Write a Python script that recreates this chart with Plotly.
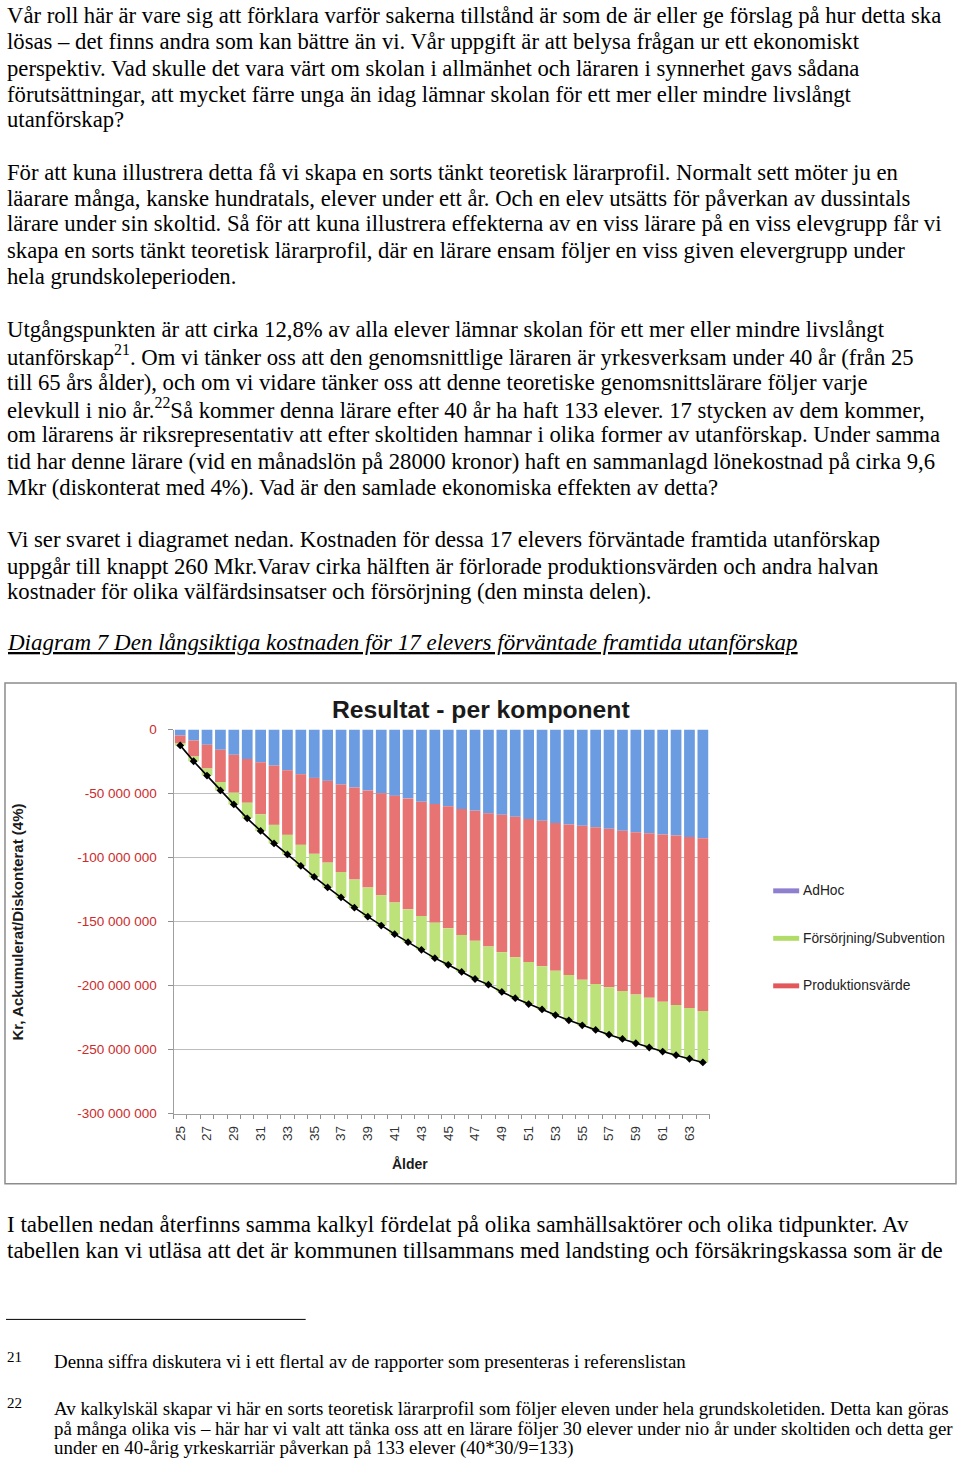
import plotly.graph_objects as go

W, H = 960, 1462

# chart data, Mkr, ages 25..64 (accumulated, discounted 4%)
ages = list(range(25, 65))
blue_part = [-4.7, -8.5, -11.9, -15.8, -19.7, -23.0, -25.6, -28.2, -31.8, -34.9,
             -37.8, -40.1, -43.0, -45.3, -47.6, -49.7, -51.8, -53.8, -56.4, -58.2,
             -60.0, -62.1, -63.4, -65.5, -66.5, -68.1, -69.9, -71.2, -73.0, -74.3,
             -75.1, -76.3, -77.6, -79.0, -80.2, -81.0, -82.1, -82.8, -83.9, -84.9]
produktion = [-5.9, -12.5, -18.6, -25.3, -29.7, -34.2, -40.7, -46.3, -50.5, -55.2,
              -59.3, -63.9, -68.3, -71.9, -75.8, -79.7, -83.3, -86.7, -89.3, -92.7,
              -95.3, -98.4, -101.7, -104.0, -107.4, -109.9, -111.8, -113.8, -115.4, -117.5,
              -120.3, -122.5, -123.7, -125.2, -126.9, -128.6, -130.6, -132.5, -133.7, -135.0]
forsorjning = [-1.8, -3.8, -5.5, -6.5, -9.1, -12.2, -12.9, -14.5, -15.3, -16.5,
               -18.1, -19.4, -19.9, -22.0, -22.8, -23.8, -24.8, -25.6, -26.4, -27.7,
               -28.5, -28.9, -29.8, -29.8, -31.1, -31.9, -32.8, -33.7, -34.7, -35.4,
               -35.7, -35.9, -37.1, -37.5, -38.0, -38.8, -38.9, -39.1, -39.6, -40.2]
totals = [b + p + f for b, p, f in zip(blue_part, produktion, forsorjning)]

ytick_vals = [0, -50, -100, -150, -200, -250, -300]
ytick_text = ["0", "-50 000 000", "-100 000 000", "-150 000 000", "-200 000 000",
              "-250 000 000", "-300 000 000"]
xtick_vals = ages[::2]
xtick_text = [str(a) for a in xtick_vals]

legend_names = ["AdHoc", "Försörjning/Subvention", "Produktionsvärde"]
legend_colors = ["#8f80cf", "#b2dc68", "#e2585a"]

# page text
body_lines = [
    "Vår roll här är vare sig att förklara varför sakerna tillstånd är som de är eller ge förslag på hur detta ska",
    "lösas – det finns andra som kan bättre än vi. Vår uppgift är att belysa frågan ur ett ekonomiskt",
    "perspektiv. Vad skulle det vara värt om skolan i allmänhet och läraren i synnerhet gavs sådana",
    "förutsättningar, att mycket färre unga än idag lämnar skolan för ett mer eller mindre livslångt",
    "utanförskap?",
    "För att kuna illustrera detta få vi skapa en sorts tänkt teoretisk lärarprofil. Normalt sett möter ju en",
    "läarare många, kanske hundratals, elever under ett år. Och en elev utsätts för påverkan av dussintals",
    "lärare under sin skoltid. Så för att kuna illustrera effekterna av en viss lärare på en viss elevgrupp får vi",
    "skapa en sorts tänkt teoretisk lärarprofil, där en lärare ensam följer en viss given elevergrupp under",
    "hela grundskoleperioden.",
    "Utgångspunkten är att cirka 12,8% av alla elever lämnar skolan för ett mer eller mindre livslångt",
    "utanförskap<sup>21</sup>. Om vi tänker oss att den genomsnittlige läraren är yrkesverksam under 40 år (från 25",
    "till 65 års ålder), och om vi vidare tänker oss att denne teoretiske genomsnittslärare följer varje",
    "elevkull i nio år.<sup>22</sup>Så kommer denna lärare efter 40 år ha haft 133 elever. 17 stycken av dem kommer,",
    "om lärarens är riksrepresentativ att efter skoltiden hamnar i olika former av utanförskap. Under samma",
    "tid har denne lärare (vid en månadslön på 28000 kronor) haft en sammanlagd lönekostnad på cirka 9,6",
    "Mkr (diskonterat med 4%). Vad är den samlade ekonomiska effekten av detta?",
    "Vi ser svaret i diagramet nedan. Kostnaden för dessa 17 elevers förväntade framtida utanförskap",
    "uppgår till knappt 260 Mkr.Varav cirka hälften är förlorade produktionsvärden och andra halvan",
    "kostnader för olika välfärdsinsatser och försörjning (den minsta delen).",
]
body_y = [9, 35, 62, 88, 114, 167, 193, 219, 246, 272, 326, 352, 379, 406, 432, 459, 485,
          538, 565, 591]
after_lines = [
    "I tabellen nedan återfinns samma kalkyl fördelat på olika samhällsaktörer och olika tidpunkter. Av",
    "tabellen kan vi utläsa att det är kommunen tillsammans med landsting och försäkringskassa som är de",
]
after_y = [1230, 1256]
caption = "Diagram 7 Den långsiktiga kostnaden för 17 elevers förväntade framtida utanförskap"

footnotes = [
    ("21", ["Denna siffra diskutera vi i ett flertal av de rapporter som presenteras i referenslistan"]),
    ("22", ["Av kalkylskäl skapar vi här en sorts teoretisk lärarprofil som följer eleven under hela grundskoletiden. Detta kan göras",
            "på många olika vis – här har vi valt att tänka oss att en lärare följer 30 elever under nio år under skoltiden och detta ger",
            "under en 40-årig yrkeskarriär påverkan på 133 elever (40*30/9=133)"]),
]


def px(x, y):
    return x / W, 1 - y / H


SERIF = "Liberation Serif"
SANS = "Liberation Sans"


def text_at(fig, x, y, txt, font, anchor="left", **kw):
    ax, ay = px(x, y)
    fig.add_annotation(x=ax, y=ay, xref="paper", yref="paper", text=txt, showarrow=False,
                       xanchor=anchor, yanchor="middle", font=font, **kw)


fig = go.Figure()
fig.add_trace(go.Bar(x=ages, y=blue_part, name="Komponent", marker=dict(color="#6b9be0", line_width=0),
                     showlegend=False))
fig.add_trace(go.Bar(x=ages, y=produktion, name="Produktionsvärde", marker=dict(color="#e77473", line_width=0),
                     showlegend=False))
fig.add_trace(go.Bar(x=ages, y=forsorjning, name="Försörjning/Subvention", marker=dict(color="#bde279", line_width=0),
                     showlegend=False))
fig.add_trace(go.Scatter(x=ages, y=totals, mode="lines+markers", name="Resultat", showlegend=False,
                         line=dict(color="black", width=1.6),
                         marker=dict(symbol="diamond", size=6, color="black")))

x0, y0 = px(172.7, 1118)
x1, y1 = px(709.3, 730)

fig.update_layout(
    width=W, height=H, autosize=False,
    margin=dict(l=0, r=0, t=0, b=0),
    paper_bgcolor="white", plot_bgcolor="white",
    barmode="relative", bargap=0.2,
    xaxis=dict(domain=[x0, x1], range=[24.5, 64.5], tickmode="array", tickvals=xtick_vals,
               ticktext=xtick_text, tickangle=-90, ticks="", showgrid=False, zeroline=False,
               showline=True, linecolor="#a0a0a0", linewidth=1,
               tickfont=dict(family=SANS, size=13.5, color="#333333"), ticklabelstandoff=6,
               minor=dict(ticks="outside", tick0=24.5, dtick=1, ticklen=4, tickcolor="#909090")),
    yaxis=dict(domain=[y0, y1], range=[-300, 0], tickmode="array", tickvals=ytick_vals,
               ticktext=ytick_text, ticks="outside", ticklen=5, tickcolor="#909090",
               showgrid=True, gridcolor="#bdbdbd", zeroline=False,
               showline=True, linecolor="#a0a0a0", linewidth=1,
               tickfont=dict(family=SANS, size=13.5, color="#cc2b2b"), ticklabelstandoff=8),
)

# chart frame
fx0, fy0 = px(4, 683)
fx1, fy1 = px(956, 1189)
fig.add_shape(type="rect", xref="paper", yref="paper", x0=fx0, x1=fx1, y0=fy1, y1=fy0,
              line=dict(color="#8c8c8c", width=1.5), layer="below")

# chart texts
text_at(fig, 480, 710, "<b>Resultat - per komponent</b>",
        dict(family=SANS, size=24.7, color="#1a1a1a"), anchor="center")
text_at(fig, 409, 1169, "<b>Ålder</b>", dict(family=SANS, size=14, color="#1a1a1a"), anchor="center")
text_at(fig, 17, 924, "<b>Kr, Ackumulerat/Diskonterat (4%)</b>",
        dict(family=SANS, size=15, color="#1a1a1a"), anchor="center", textangle=-90)

# legend
for i, (name, col) in enumerate(zip(legend_names, legend_colors)):
    ly = 893 + 48 * i
    sx0, sy0 = px(773, ly - 2.5)
    sx1, sy1 = px(799, ly + 2.5)
    fig.add_shape(type="rect", xref="paper", yref="paper", x0=sx0, x1=sx1, y0=sy1, y1=sy0,
                  fillcolor=col, line_width=0)
    text_at(fig, 801, ly, name, dict(family=SANS, size=13.8, color="#222222"))

# body text
for txt, yv in zip(body_lines, body_y):
    text_at(fig, 4, yv, txt, dict(family=SERIF, size=22.7, color="black"))
for txt, yv in zip(after_lines, after_y):
    text_at(fig, 4, yv, txt, dict(family=SERIF, size=23, color="black"))

text_at(fig, 4, 642, caption,
        dict(family=SERIF, size=23, color="black", style="italic", lineposition="under"))

# footnotes
rx0, ry = px(5, 1326)
rx1, _ = px(305, 1326)
fig.add_shape(type="line", xref="paper", yref="paper", x0=rx0, x1=rx1, y0=ry, y1=ry,
              line=dict(color="black", width=1))

note_num_y = [1364, 1410]
note_line_y = [[1369], [1416, 1436, 1456]]
for (num, lines), ny, lys in zip(footnotes, note_num_y, note_line_y):
    text_at(fig, 4, ny, num, dict(family=SERIF, size=15, color="black"))
    for line, yv in zip(lines, lys):
        text_at(fig, 51, yv, line, dict(family=SERIF, size=18.9, color="black"))

fig.write_html("out.html", config={"displayModeBar": False},
               post_script="document.body.style.margin='0';document.body.style.padding='0';")
